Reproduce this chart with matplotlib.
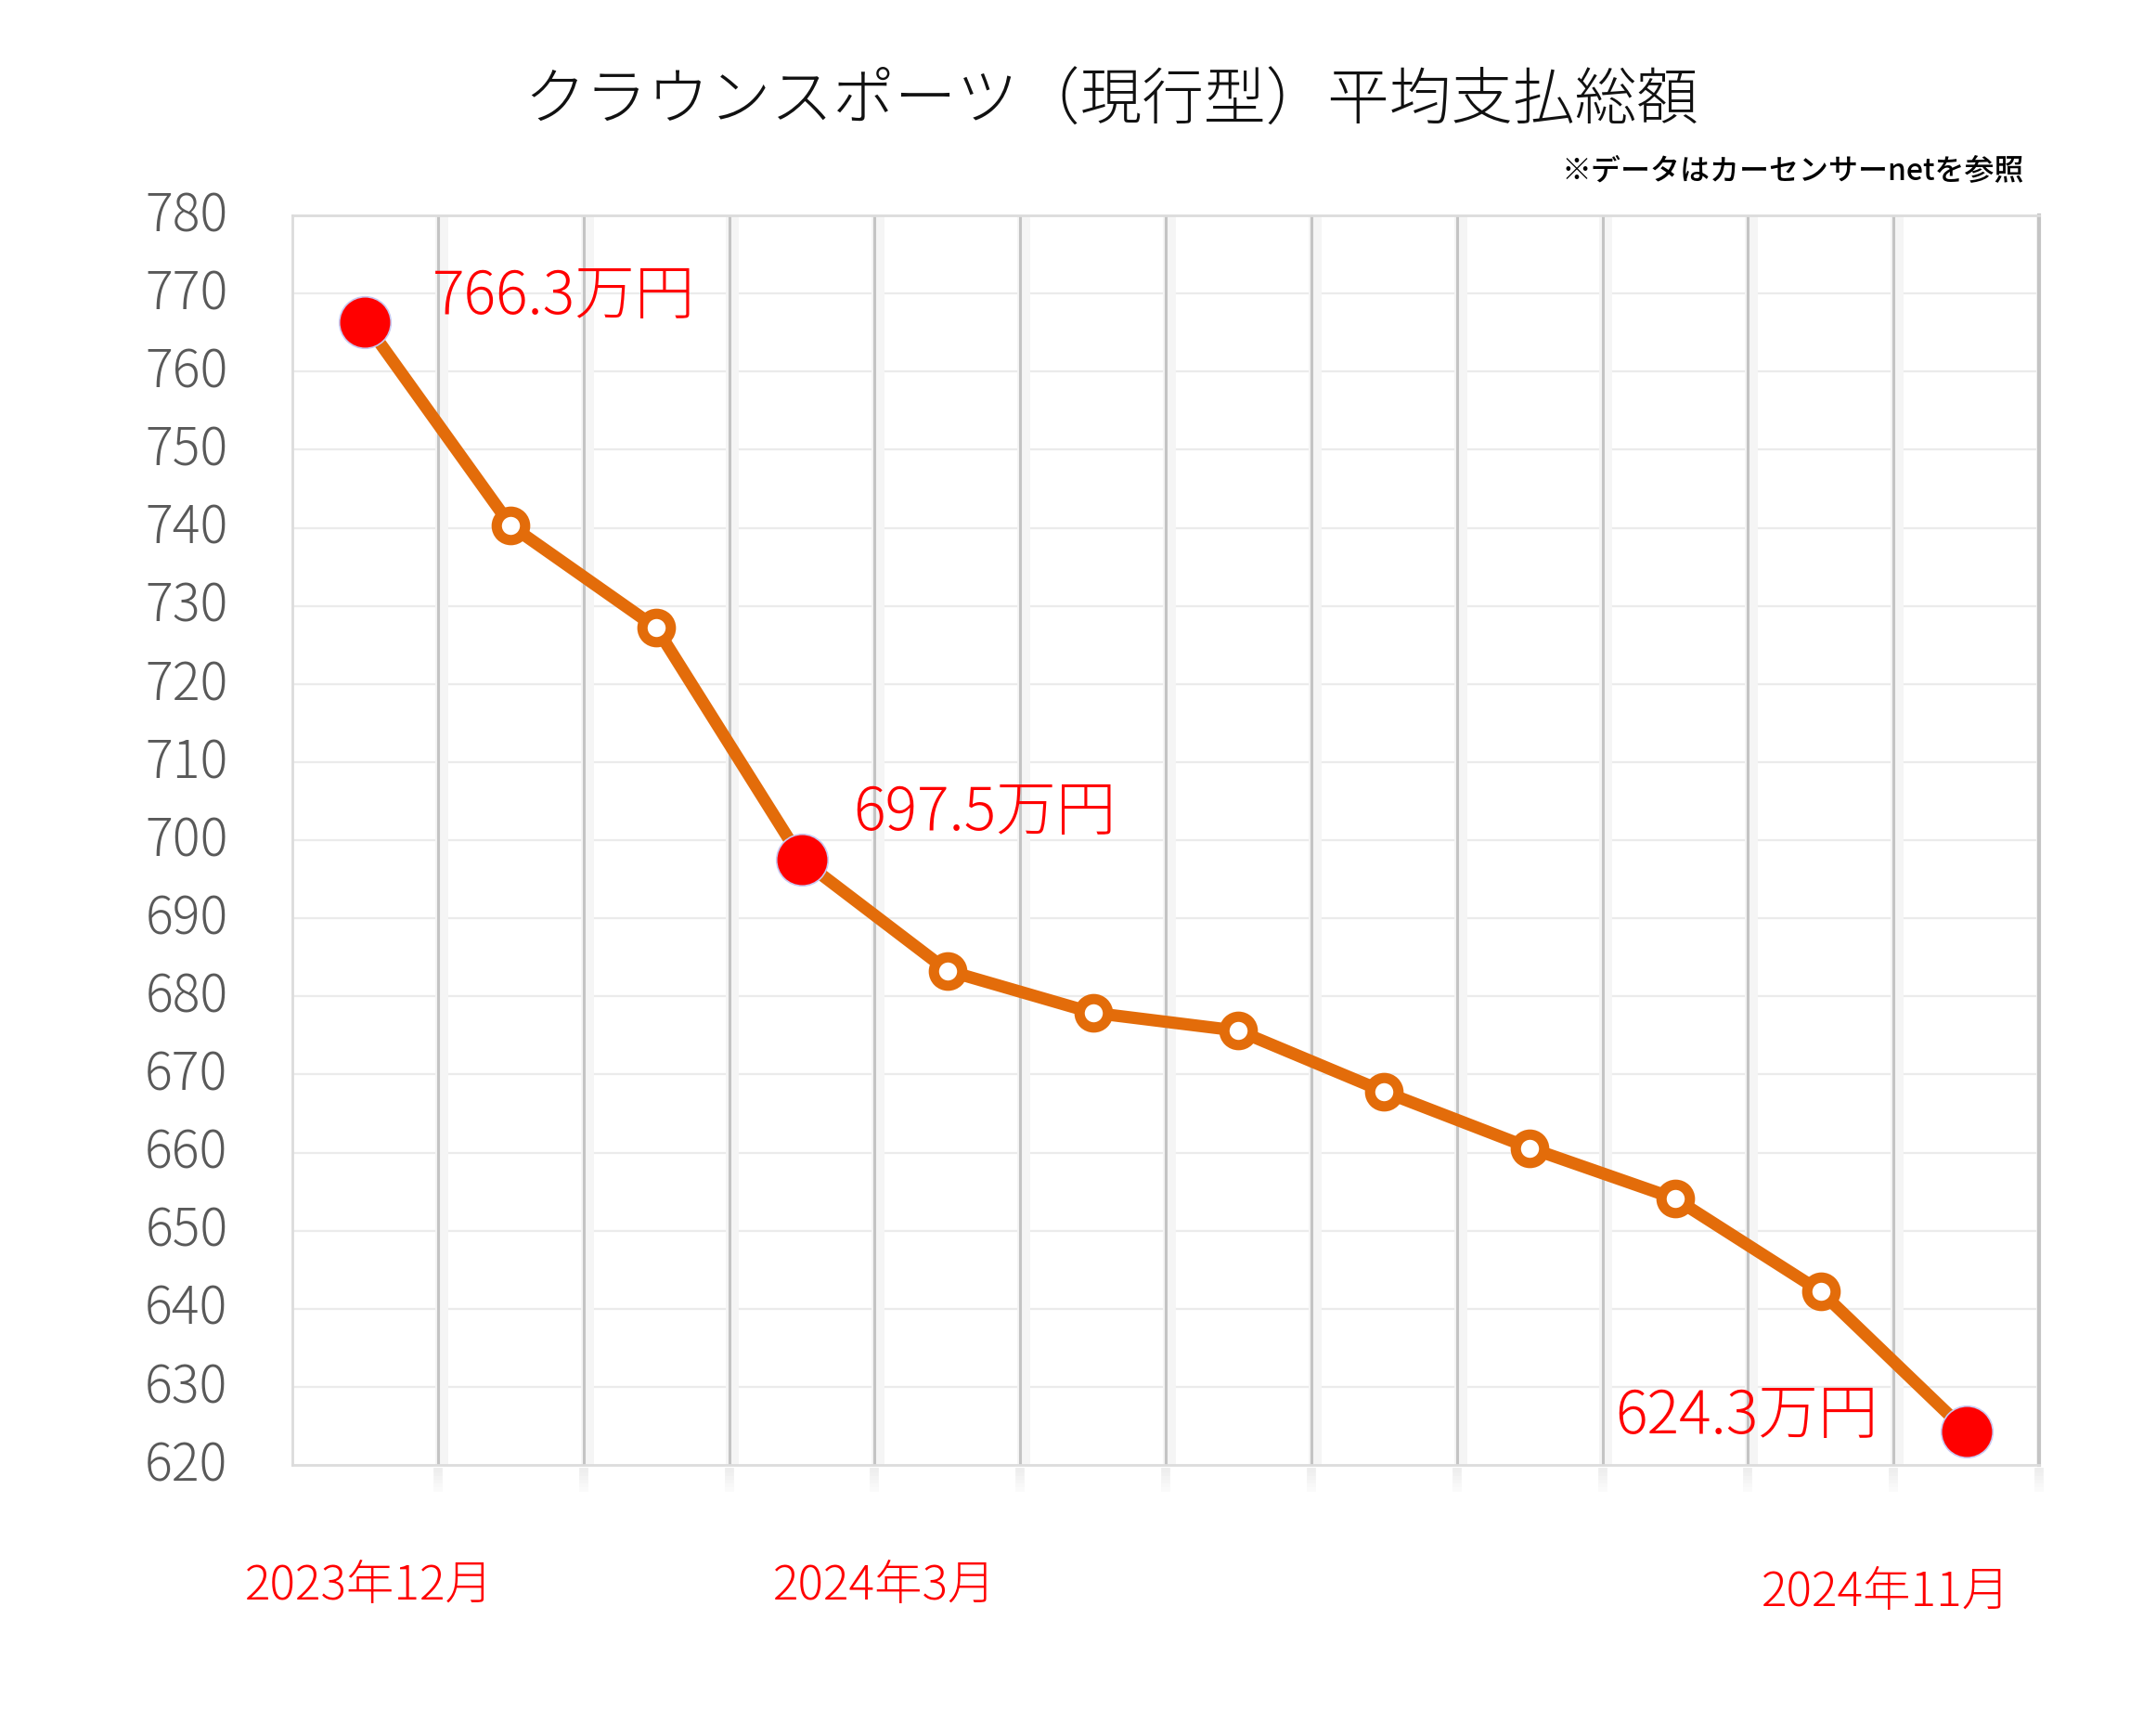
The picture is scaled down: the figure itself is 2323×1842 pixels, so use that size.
import matplotlib.pyplot as plt
import matplotlib.transforms as mtransforms
import numpy as np

plt.rcParams['font.family'] = ['Noto Sans CJK JP', 'DejaVu Sans']
plt.rcParams['font.weight'] = 'light'

# monthly average total payment (万円), Dec 2023 -> Nov 2024
months = ['2023年12月', '2024年1月', '2024年2月', '2024年3月', '2024年4月', '2024年5月',
          '2024年6月', '2024年7月', '2024年8月', '2024年9月', '2024年10月', '2024年11月']
prices = [766.3, 740.3, 727.2, 697.5, 683.3, 677.9, 675.6, 667.8, 660.6, 654.1, 642.2, 624.3]
highlight = [0, 3, 11]  # points drawn red with a value label
shown_months = [0, 3, 11]

title = 'クラウンスポーツ（現行型）平均支払総額'
note = '※データはカーセンサーnetを参照'

orange = '#E36C0A'
red = '#FF0000'

fig = plt.figure(figsize=(23.23, 18.42), dpi=100)
ax = fig.add_axes([0.1356, 0.1433, 0.8102, 0.7307])

x = np.arange(len(prices))
ax.plot(x, prices, color=orange, lw=9.5, zorder=3, solid_capstyle='round')
ax.plot(x, prices, ls='none', marker='o', ms=22, mew=8, mfc='white', mec=orange, zorder=4)
hx = [x[i] for i in highlight]
hy = [prices[i] for i in highlight]
ax.plot(hx, hy, ls='none', marker='o', ms=40, mfc=red, mec='#c8c8f0', mew=1.2, zorder=5)

# value labels
offsets = {0: (52, 19, 'left'), 3: (40, 36, 'left'), 11: (-68, 11, 'right')}
for i in highlight:
    dx, dy, ha = offsets[i]
    ax.annotate(f'{prices[i]:.1f}万円', (x[i], prices[i]), xytext=(dx, dy),
                textcoords='offset points', ha=ha, va='center', color=red, fontsize=46.5, zorder=6)

ax.set_xlim(-0.5, len(prices) - 0.5)
ax.set_ylim(620, 780)
ax.set_yticks(np.arange(620, 781, 10))
ax.tick_params(axis='y', length=0, pad=50, labelsize=40, labelcolor='#595959')
shift = mtransforms.ScaledTranslation(0, 4 / 72, fig.dpi_scale_trans)
for lab in ax.get_yticklabels():
    lab.set_transform(lab.get_transform() + shift)
ax.set_xticks([])

# horizontal grid
for v in np.arange(630, 781, 10):
    ax.axhline(v, color='#ebebeb', lw=1.6, zorder=1)

# vertical separators with a soft shadow
for b in np.arange(0.5, len(prices), 1.0):
    ax.axvline(b + 0.025, color='#f5f5f5', lw=10, zorder=1)
    ax.axvline(b, color='#c4c4c4', lw=2.2, zorder=2)
    for k in range(6):
        ax.plot([b, b], [619.6 - k * 0.5, 619.1 - k * 0.5], color='#d0d0d0', lw=7,
                alpha=0.35 - k * 0.05, clip_on=False, zorder=1, solid_capstyle='butt')

for s in ['top', 'left', 'bottom']:
    ax.spines[s].set_color('#dcdcdc')
    ax.spines[s].set_linewidth(2)
ax.spines['right'].set_color('#c4c4c4')
ax.spines['right'].set_linewidth(3)

# month labels below the plot
label_shift = {0: 0.03, 3: 0.57, 11: -0.55}
label_y = {0: -0.097, 3: -0.097, 11: -0.102}
for i in shown_months:
    ax.text(x[i] + label_shift[i], label_y[i], months[i], transform=ax.get_xaxis_transform(),
            ha='center', va='center', color=red, fontsize=37)

fig.text(0.5155, 0.9405, title, ha='center', va='center', fontsize=48, color='#111111')
fig.text(0.939, 0.9, note, ha='right', va='center', fontsize=23, color='black',
         fontweight='medium')

fig.savefig('out.png', dpi=100, facecolor='white')
